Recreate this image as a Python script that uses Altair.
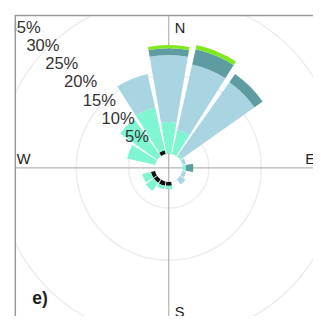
import math
import altair as alt
import pandas as pd

# ---------------- data (percent frequency per direction and speed class) ----
DIRS = ["N", "NNE", "NE", "ENE", "E", "ESE", "SE", "SSE",
        "S", "SSW", "SW", "WSW", "W", "WNW", "NW", "NNW"]
BINS = ["c1", "c2", "c3", "c4", "c5"]
BIN_COLORS = ["#111111", "#7ff5d2", "#a9d4e1", "#5e9ca2", "#7fe81e"]

C1 = [0, 0, 0, 0, 0, 0, 0, 0, 0.7, 0.8, 0.8, 0.8, 0, 0, 0, 0.75]
C2 = [6.1, 4.8, 0.5, 0, 0.6, 0, 0, 0, 0.7, 0.7, 1.9, 1.7, 0, 5.5, 8.7, 8.4]
C3 = [12.8, 12.8, 16.9, 0.7, 0, 0.7, 1.2, 0, 0, 0, 0, 0, 0, 0, 0, 6.6]
C4 = [1.3, 3.0, 1.9, 0, 1.4, 0, 0, 0, 0, 0, 0, 0, 0, 0, 0, 0]
C5 = [0.6, 0.8, 0, 0, 0, 0, 0, 0, 0, 0, 0, 0, 0, 0, 0, 0]

GRID = [5, 10, 15, 20, 25, 30, 35, 40, 45]
PCT_LABELS = [5, 10, 15, 20, 25, 30, 35]
COMPASS = ["N", "E", "S", "W"]
PANEL = "e)"

# ---------------- layout ----------------------------------------------------
W, H = 306, 309
CX, CY = 158, 157
HALF = 9.75          # half width of a sector in degrees
LABEL_ANGLE = 314    # degrees, direction of % labels
FONT = "Liberation Sans"

rows = []
for i, d in enumerate(DIRS):
    ang = i * 22.5
    cum = 0.0
    for b, series in zip(BINS, [C1, C2, C3, C4, C5]):
        v = series[i]
        if v > 0:
            rows.append({"dir": d, "bin": b, "a0": ang - HALF, "a1": ang + HALF,
                         "r0": cum, "r1": cum + v})
        cum += v
bars_df = pd.DataFrame(rows)

RSCALE = alt.Scale(type="linear", domain=[0, 40], range=[14.5, 14.5 + 8 * 26.8])
TSCALE = alt.Scale(type="linear", domain=[0, 360], range=[0, 2 * math.pi])

one = alt.Data(values=[{"k": 1}])

grid = alt.Chart(pd.DataFrame({"g": GRID})).mark_arc(
    filled=False, stroke="#eeeeee", strokeWidth=1.3, clip=True
).encode(
    x=alt.value(CX), y=alt.value(CY),
    radius=alt.Radius("g:Q", scale=RSCALE),
    theta=alt.value(0), theta2=alt.value(2 * math.pi),
)

vline = alt.Chart(one).mark_rule(color="#a0a0a0", strokeWidth=1).encode(
    x=alt.value(CX), y=alt.value(0), y2=alt.value(H))
hline = alt.Chart(one).mark_rule(color="#a0a0a0", strokeWidth=1).encode(
    y=alt.value(CY), x=alt.value(0), x2=alt.value(W))

bars = alt.Chart(bars_df).mark_arc(clip=True).encode(
    x=alt.value(CX), y=alt.value(CY),
    theta=alt.Theta("a0:Q", scale=TSCALE, stack=None),
    theta2="a1:Q",
    radius=alt.Radius("r0:Q", scale=RSCALE),
    radius2="r1:Q",
    color=alt.Color("bin:N", scale=alt.Scale(domain=BINS, range=BIN_COLORS), legend=None),
)

pct = alt.Chart(pd.DataFrame({"v": PCT_LABELS, "t": [f"{p}%" for p in PCT_LABELS]})).mark_text(
    font=FONT, fontSize=17, color="#333333", align="center", baseline="middle",
    clip=True, dx=-3, dy=-3
).encode(
    x=alt.value(CX), y=alt.value(CY),
    radius=alt.Radius("v:Q", scale=RSCALE),
    theta=alt.value(LABEL_ANGLE * math.pi / 180),
    text="t:N",
)

def lbl(t, x, y, size=15, weight="normal", align="left"):
    return alt.Chart(one).mark_text(
        font=FONT, fontSize=size, fontWeight=weight, color="#222222",
        align=align, baseline="alphabetic", clip=True
    ).encode(x=alt.value(x), y=alt.value(y), text=alt.value(t))

n_lbl = lbl(COMPASS[0], CX + 6, 19)
e_lbl = lbl(COMPASS[1], 298, 153)
s_lbl = lbl(COMPASS[2], CX + 6, 310)
w_lbl = lbl(COMPASS[3], 2, 153)
panel = lbl(PANEL, 18, 297, size=18, weight="bold")

frame_l = alt.Chart(one).mark_rule(color="#9a9a9a", strokeWidth=1.5).encode(
    x=alt.value(0.5), y=alt.value(0), y2=alt.value(H))
frame_t = alt.Chart(one).mark_rule(color="#9a9a9a", strokeWidth=1.5).encode(
    y=alt.value(0.5), x=alt.value(0), x2=alt.value(W))

chart = alt.layer(
    grid, vline, hline, bars, pct, n_lbl, e_lbl, s_lbl, w_lbl, panel, frame_l, frame_t
).properties(
    width=W, height=H,
    autosize=alt.AutoSizeParams(type="none"),
    padding={"left": 7, "top": 3, "right": 0, "bottom": 0},
).configure_view(stroke=None)

chart.save("out.html", embed_options={"renderer": "svg", "actions": False})
